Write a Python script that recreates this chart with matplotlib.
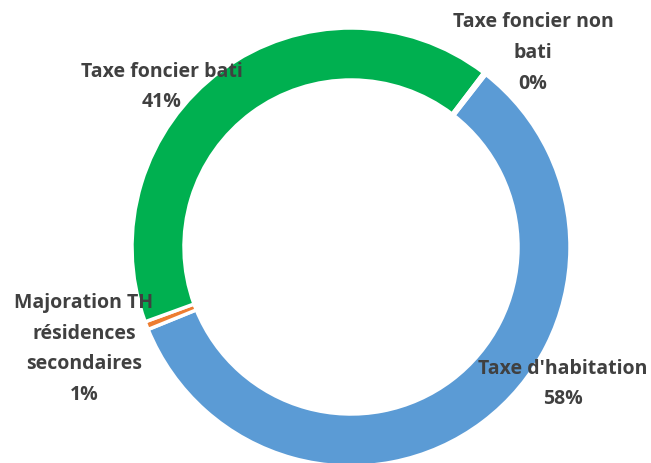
import matplotlib.pyplot as plt

labels = ["Taxe d'habitation", "Majoration TH\nrésidences\nsecondaires",
          "Taxe foncier bati", "Taxe foncier non\nbati"]
shares = [58.3, 0.6, 40.9, 0.2]
colors = ["#5B9BD5", "#ED7D31", "#00B050", "#A5A5A5"]

# label anchor points in pixel coords (y up)
label_pos = [(563, 79), (84, 114), (162, 376), (533, 410)]

fig = plt.figure(figsize=(6.51, 4.63), dpi=100)
ax = fig.add_axes([0, 0, 1, 1])

ax.pie(shares, colors=colors, center=(351, 216), radius=219,
       startangle=52, counterclock=False,
       wedgeprops=dict(width=52, edgecolor="white", linewidth=2.5),
       frame=True)
ax.set_xlim(0, 651)
ax.set_ylim(0, 463)
ax.set_aspect("equal")
ax.axis("off")

for lab, val, (x, y) in zip(labels, shares, label_pos):
    ax.text(x, y, f"{lab}\n{val:.0f}%", ha="center", va="center",
            fontsize=14, family="Open Sans", fontweight="bold",
            color="#404040", linespacing=1.72)

fig.savefig("out.png", dpi=100)
